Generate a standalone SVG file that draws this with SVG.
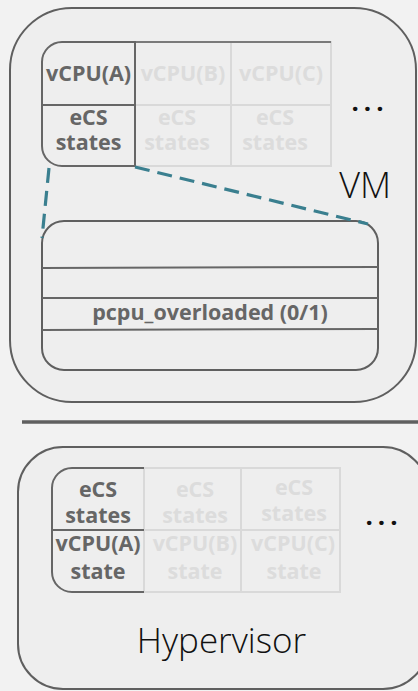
<svg xmlns="http://www.w3.org/2000/svg" width="418" height="691" viewBox="0 0 418 691">
<style>
.box{fill:#eeeeee;stroke:#5f5f5f;stroke-width:2}
.dk{stroke:#666666;stroke-width:2;fill:none}
.lt{stroke:#d9d9d9;stroke-width:2;fill:none}
.tb{font-family:"Open Sans","Liberation Sans",sans-serif;font-weight:700;font-size:21.5px;text-anchor:middle}
.tdk{fill:#666666}
.tlt{fill:#dcdcdc}
.big{font-family:"Open Sans","Liberation Sans",sans-serif;font-weight:300;fill:#111111}
.dots{font-family:"Open Sans","Liberation Sans",sans-serif;font-size:22px;font-weight:800;fill:#111111;letter-spacing:6px}
.dash{stroke:#3a7f8f;stroke-width:3.2;fill:none;stroke-dasharray:15 8}
</style>
<rect width="418" height="691" fill="#f2f2f2"/>

<g id="vm">
<rect class="box" x="10" y="8" width="406" height="394" rx="62" ry="62"/>
<text class="big" x="391" y="198" font-size="36" text-anchor="end">VM</text>
<text class="dots" x="352" y="111">...</text>
</g>

<g id="vm-table">
<rect class="lt" x="135" y="42" width="96" height="124" fill="#eeeeee"/>
<rect class="lt" x="231" y="42" width="100" height="124"/>
<line class="lt" x1="135" y1="105" x2="331" y2="105"/>
<line class="dk" x1="135" y1="42" x2="331" y2="42" style="stroke:#7a7a7a"/>
<path class="dk" d="M135,42 H62 A20,20 0 0 0 42,62 V146 A20,20 0 0 0 62,166 H135 Z" fill="#eeeeee"/>
<line class="dk" x1="42" y1="105" x2="135" y2="105"/>
<text class="tb tdk" x="88.5" y="81">vCPU(A)</text>
<text class="tb tlt" x="183" y="81">vCPU(B)</text>
<text class="tb tlt" x="281" y="81">vCPU(C)</text>
<text class="tb tdk" x="88.5" y="125">eCS</text>
<text class="tb tdk" x="88.5" y="150">states</text>
<text class="tb tlt" x="177" y="125">eCS</text>
<text class="tb tlt" x="177" y="150">states</text>
<text class="tb tlt" x="275" y="125">eCS</text>
<text class="tb tlt" x="275" y="150">states</text>
</g>

<g id="state-block">
<rect class="box" x="42" y="221" width="336" height="149" rx="22" ry="22"/>
<line class="dk" x1="42" y1="268" x2="378" y2="267"/>
<line class="dk" x1="42" y1="298" x2="378" y2="298"/>
<line class="dk" x1="42" y1="330" x2="378" y2="329"/>
<text class="tb tdk" x="210" y="320">pcpu_overloaded (0/1)</text>
</g>

<g id="connectors">
<line class="dash" x1="49" y1="168" x2="42" y2="238"/>
<line class="dash" x1="135" y1="167" x2="368" y2="224"/>
</g>

<g id="separator">
<line x1="22" y1="422" x2="418" y2="422" stroke="#606060" stroke-width="3.3"/>
</g>

<g id="hypervisor">
<rect class="box" x="18" y="447" width="410" height="242" rx="45" ry="45"/>
<text class="big" x="221.5" y="653" font-size="35" text-anchor="middle">Hypervisor</text>
<text class="dots" x="366" y="525">...</text>
</g>

<g id="hv-table">
<rect class="lt" x="144" y="468" width="97" height="124"/>
<rect class="lt" x="241" y="468" width="99" height="124"/>
<line class="lt" x1="144" y1="530" x2="340" y2="530"/>
<path class="dk" d="M144,468 H72 A20,20 0 0 0 52,488 V572 A20,20 0 0 0 72,592 H144" fill="#eeeeee"/>
<line class="dk" x1="52" y1="530" x2="144" y2="530"/>
<text class="tb tdk" x="98" y="497">eCS</text>
<text class="tb tdk" x="98" y="523">states</text>
<text class="tb tdk" x="98" y="551">vCPU(A)</text>
<text class="tb tdk" x="98" y="579">state</text>
<text class="tb tlt" x="195" y="497">eCS</text>
<text class="tb tlt" x="195" y="523">states</text>
<text class="tb tlt" x="195" y="551">vCPU(B)</text>
<text class="tb tlt" x="195" y="579">state</text>
<text class="tb tlt" x="294" y="495">eCS</text>
<text class="tb tlt" x="294" y="521">states</text>
<text class="tb tlt" x="293" y="551">vCPU(C)</text>
<text class="tb tlt" x="294" y="579">state</text>
</g>
</svg>
